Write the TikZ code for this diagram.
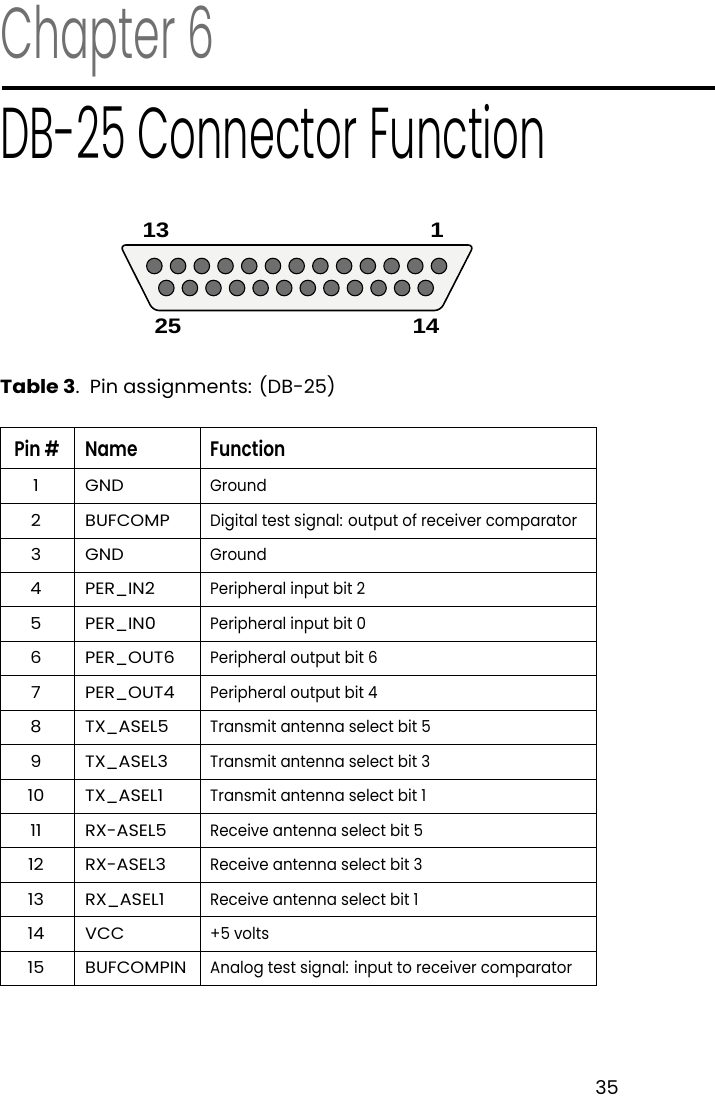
\documentclass[tikz,border=0pt]{standalone}
\usepackage{fontspec}
\setmainfont{Poppins}[FakeStretch=0.915]
\newfontfamily\namefont{Poppins}[FakeStretch=1.07]
\newfontfamily\capmainfont{Poppins}[FakeStretch=1.015]
\newfontfamily\chapterfont{Poppins Light}[FakeStretch=0.595]
\newfontfamily\titlefont{Poppins Light}[FakeStretch=0.58]
\newfontfamily\headfont{Poppins SemiBold}[FakeStretch=0.81]
\newfontfamily\capfont{Poppins Bold}[FakeStretch=1.08]
\newfontfamily\pinfont{Liberation Sans}[FakeStretch=1.15]
\definecolor{chaptergray}{HTML}{707070}
\definecolor{shellfill}{HTML}{F3F3F1}
\definecolor{pinfill}{HTML}{6E6E6E}
\tikzset{
  celltext/.style={anchor=base west,inner sep=0pt,font=\fontsize{16.5}{18}\selectfont},
  nametext/.style={anchor=base west,inner sep=0pt,font=\namefont\fontsize{16.5}{18}\selectfont},
  pincell/.style={anchor=base,inner sep=0pt,font=\namefont\fontsize{16.5}{18}\selectfont},
  headtext/.style={anchor=base west,inner sep=0pt,font=\headfont\fontsize{21}{24}\selectfont},
  pindot/.style={circle,draw=black,line width=1.1pt,fill=pinfill,minimum size=15.5pt,inner sep=0pt},
  pinlabel/.style={inner sep=0pt,font=\pinfont\bfseries\fontsize{21}{24}\selectfont},
}
\begin{document}
\begin{tikzpicture}[x=1pt,y=-1pt]

\useasboundingbox (0,0) rectangle (715,1096);

\node[anchor=base west,inner sep=0pt,text=chaptergray,font=\chapterfont\fontsize{72}{80}\selectfont] (chapter) at (0,58) {Chapter 6};
\draw[line width=4pt] (2,88) -- (715,88);
\node[anchor=base west,inner sep=0pt,font=\titlefont\fontsize{72}{80}\selectfont] (title) at (0,158) {DB-25 Connector Function};

% connector shell
\draw[fill=shellfill,line width=1.6pt,rounded corners=6pt] (120,245) -- (474,245) -- (440.5,310.5) -- (153,310.5) -- cycle;

\foreach \i in {1,...,13} {
  \node[pindot] (top\i) at ({439-(\i-1)*23.72},266) {};
}
\foreach \i in {14,...,25} {
  \node[pindot] (bot\i) at ({425.7-(\i-14)*23.58},288) {};
}
\node[pinlabel] (n13) at (156,230) {13};
\node[pinlabel] (n1) at (437,230) {1};
\node[pinlabel] (n25) at (168,326) {25};
\node[pinlabel] (n14) at (426,326) {14};

\node[anchor=base west,inner sep=0pt,font=\capmainfont\fontsize{19}{22}\selectfont] (caption) at (0,393)
  {{\capfont Table 3}.\ \ Pin assignments: (DB-25)};

% table
\foreach \y in {427.5,468.5,503.5,538.5,572.5,606.5,641.5,675.5,710.5,744.5,779.5,813.5,847.5,882.5,916.5,951.5,985.5} {
  \draw[line width=1pt] (0,\y) -- (596.5,\y);
}
\foreach \x in {0.5,74.5,200.5,596.5} {
  \draw[line width=1pt] (\x,427.5) -- (\x,985.5);
}

\node[anchor=base,inner sep=0pt,font=\headfont\fontsize{21}{24}\selectfont] (hpin) at (37,456) {Pin\ \#};
\node[headtext] (hname) at (85,456) {Name};
\node[headtext] (hfunc) at (210,456) {Function};

\foreach \n/\y/\pname/\pfunc in {
  1/491/GND/Ground,
  2/526/BUFCOMP/{Digital test signal: output of receiver comparator},
  3/560/GND/Ground,
  4/594/PER\_IN2/Peripheral input bit 2,
  5/629/PER\_IN0/Peripheral input bit 0,
  6/663/PER\_OUT6/Peripheral output bit 6,
  7/698/PER\_OUT4/Peripheral output bit 4,
  8/732/TX\_ASEL5/Transmit antenna select bit 5,
  9/767/TX\_ASEL3/Transmit antenna select bit 3,
  10/801/TX\_ASEL1/Transmit antenna select bit 1,
  11/836/RX-ASEL5/Receive antenna select bit 5,
  12/870/RX-ASEL3/Receive antenna select bit 3,
  13/905/RX\_ASEL1/Receive antenna select bit 1,
  14/939/VCC/+5 volts,
  15/973/BUFCOMPIN/{Analog test signal: input to receiver comparator}} {
  \node[pincell] (pin\n) at (36,\y) {\n};
  \node[nametext] (name\n) at (85,\y) {\pname};
  \node[celltext] (func\n) at (210,\y) {\pfunc};
}

\node[anchor=base,inner sep=0pt,font=\capmainfont\fontsize{19}{19}\selectfont] (page) at (607,1094) {35};

\end{tikzpicture}
\end{document}
